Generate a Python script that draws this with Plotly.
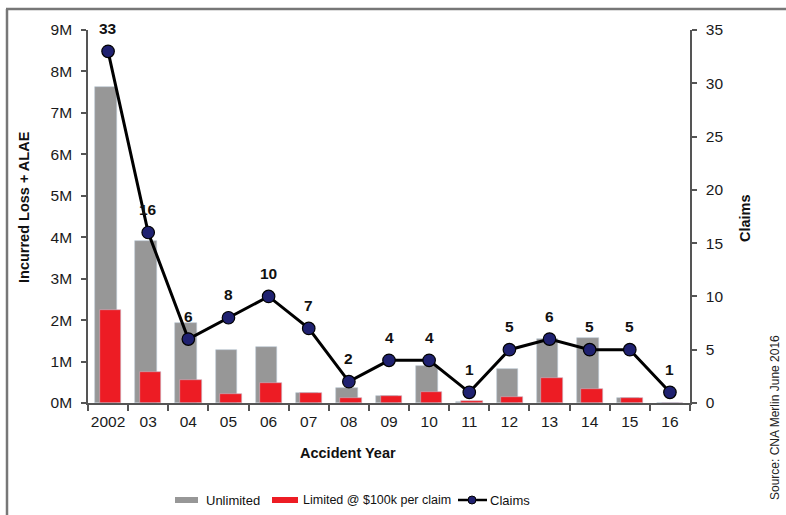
import plotly.graph_objects as go

years = ["2002", "03", "04", "05", "06", "07", "08", "09", "10", "11", "12", "13", "14", "15", "16"]
unlimited = [7.63e6, 3.90e6, 1.94e6, 1.29e6, 1.36e6, 0.25e6, 0.36e6, 0.17e6, 0.89e6, 0.02e6, 0.83e6, 1.54e6, 1.57e6, 0.13e6, 0.0]
limited = [2.24e6, 0.76e6, 0.56e6, 0.21e6, 0.475e6, 0.24e6, 0.12e6, 0.17e6, 0.26e6, 0.04e6, 0.145e6, 0.60e6, 0.33e6, 0.12e6, 0.0]
claims = [33, 16, 6, 8, 10, 7, 2, 4, 4, 1, 5, 6, 5, 5, 1]
y1_ticks = [0, 1e6, 2e6, 3e6, 4e6, 5e6, 6e6, 7e6, 8e6, 9e6]
y1_labels = ["0M", "1M", "2M", "3M", "4M", "5M", "6M", "7M", "8M", "9M"]

W, H = 786, 515
L, R, T, B = 88, 96, 30, 112
PW, PH = W - L - R, H - T - B


def px(x):
    return (x - L) / PW


def py(y):
    return (H - B - y) / PH


FONT = "Liberation Sans, Arial, sans-serif"
GRAY = "#979797"
RED = "#ed1c24"
NAVY = "#1f2170"
AXIS = "#555555"

fig = go.Figure()
fig.add_trace(go.Bar(x=years, y=unlimited, name="Unlimited", marker=dict(color=GRAY, line=dict(color="#b9c7d4", width=0.6)),
                     width=0.54, offset=-0.32, showlegend=False))
fig.add_trace(go.Bar(x=years, y=limited, name="Limited @ $100k per claim", marker=dict(color=RED, line=dict(color="#c9b8c8", width=0.6)),
                     width=0.54, offset=-0.21, showlegend=False))
fig.add_trace(go.Scatter(x=years, y=claims, name="Claims", yaxis="y2", mode="lines+markers",
                         line=dict(color="black", width=3),
                         marker=dict(color=NAVY, size=12.5, line=dict(color="black", width=1.2)),
                         showlegend=False))

annotations = []
for i, c in enumerate(claims):
    annotations.append(dict(x=i, y=c, xref="x", yref="y2", text="<b>" + str(c) + "</b>", showarrow=False,
                            xanchor="center", yanchor="middle", yshift=23,
                            font=dict(family=FONT, size=15.5, color="#111")))


def note(x, y, text, size, angle=0, xanchor="center", bold=False, color="#111"):
    return dict(x=px(x), y=py(y), xref="paper", yref="paper", text=("<b>%s</b>" % text) if bold else text,
                showarrow=False, textangle=angle, xanchor=xanchor, yanchor="middle",
                font=dict(family=FONT, size=size, color=color))


annotations += [
    note(348, 453, "Accident Year", 14.5, bold=True),
    note(24, 207, "Incurred Loss + ALAE", 14.5, angle=-90, bold=True),
    note(745, 218, "Claims", 14.5, angle=-90, bold=True),
    note(775, 418, "Source: CNA Merlin June 2016", 12, angle=-90, color="#222"),
    note(204, 500, "Unlimited", 13, xanchor="left"),
    note(301, 500, "Limited @ $100k per claim", 12.5, xanchor="left"),
    note(488, 500, "Claims", 13, xanchor="left"),
]

shapes = [
    dict(type="rect", xref="paper", yref="paper", x0=px(175), x1=px(198), y0=py(503), y1=py(497),
         fillcolor=GRAY, line=dict(width=0)),
    dict(type="rect", xref="paper", yref="paper", x0=px(272), x1=px(298), y0=py(503), y1=py(497),
         fillcolor=RED, line=dict(width=0)),
    dict(type="line", xref="paper", yref="paper", x0=px(458), x1=px(487), y0=py(500), y1=py(500),
         line=dict(color="black", width=2.5)),
    dict(type="circle", xref="paper", yref="paper", x0=px(468), x1=px(476), y0=py(504), y1=py(496),
         fillcolor=NAVY, line=dict(color="black", width=1)),
    # outer frame (left and top edges)
    dict(type="line", xref="paper", yref="paper", x0=px(7), x1=px(7), y0=py(9), y1=py(H + 5),
         line=dict(color="#777", width=2.5)),
    dict(type="line", xref="paper", yref="paper", x0=px(6), x1=px(W + 5), y0=py(9), y1=py(9),
         line=dict(color="#777", width=2.5)),
]

fig.update_layout(
    width=W, height=H, autosize=False,
    margin=dict(l=L, r=R, t=T, b=B, pad=0),
    paper_bgcolor="white", plot_bgcolor="white",
    barmode="overlay", bargap=0,
    font=dict(family=FONT, size=15.5, color="#1a1a1a"),
    xaxis=dict(type="category", tickson="boundaries", ticks="outside", ticklen=6, tickwidth=1.5, tickcolor=AXIS,
               showline=True, linecolor=AXIS, linewidth=1.5, showgrid=False, zeroline=False, tickangle=0,
               ticklabelstandoff=4,
               tickfont=dict(family=FONT, size=15.5, color="#1a1a1a"), range=[-0.5, 14.5]),
    yaxis=dict(range=[0, 9e6], tickvals=y1_ticks, ticktext=y1_labels, ticks="outside", ticklen=5, tickwidth=1.5,
               tickcolor=AXIS, showline=True, linecolor=AXIS, linewidth=1.5, showgrid=False, zeroline=False,
               ticklabelstandoff=6, tickfont=dict(family=FONT, size=15.5, color="#1a1a1a")),
    yaxis2=dict(range=[0, 35], dtick=5, overlaying="y", side="right", ticks="outside", ticklen=5, tickwidth=1.5,
                tickcolor=AXIS, showline=True, linecolor=AXIS, linewidth=1.5, showgrid=False, zeroline=False,
                ticklabelstandoff=6, tickfont=dict(family=FONT, size=15.5, color="#1a1a1a")),
    annotations=annotations,
    shapes=shapes,
    showlegend=False,
)

fig.write_html("out.html")
